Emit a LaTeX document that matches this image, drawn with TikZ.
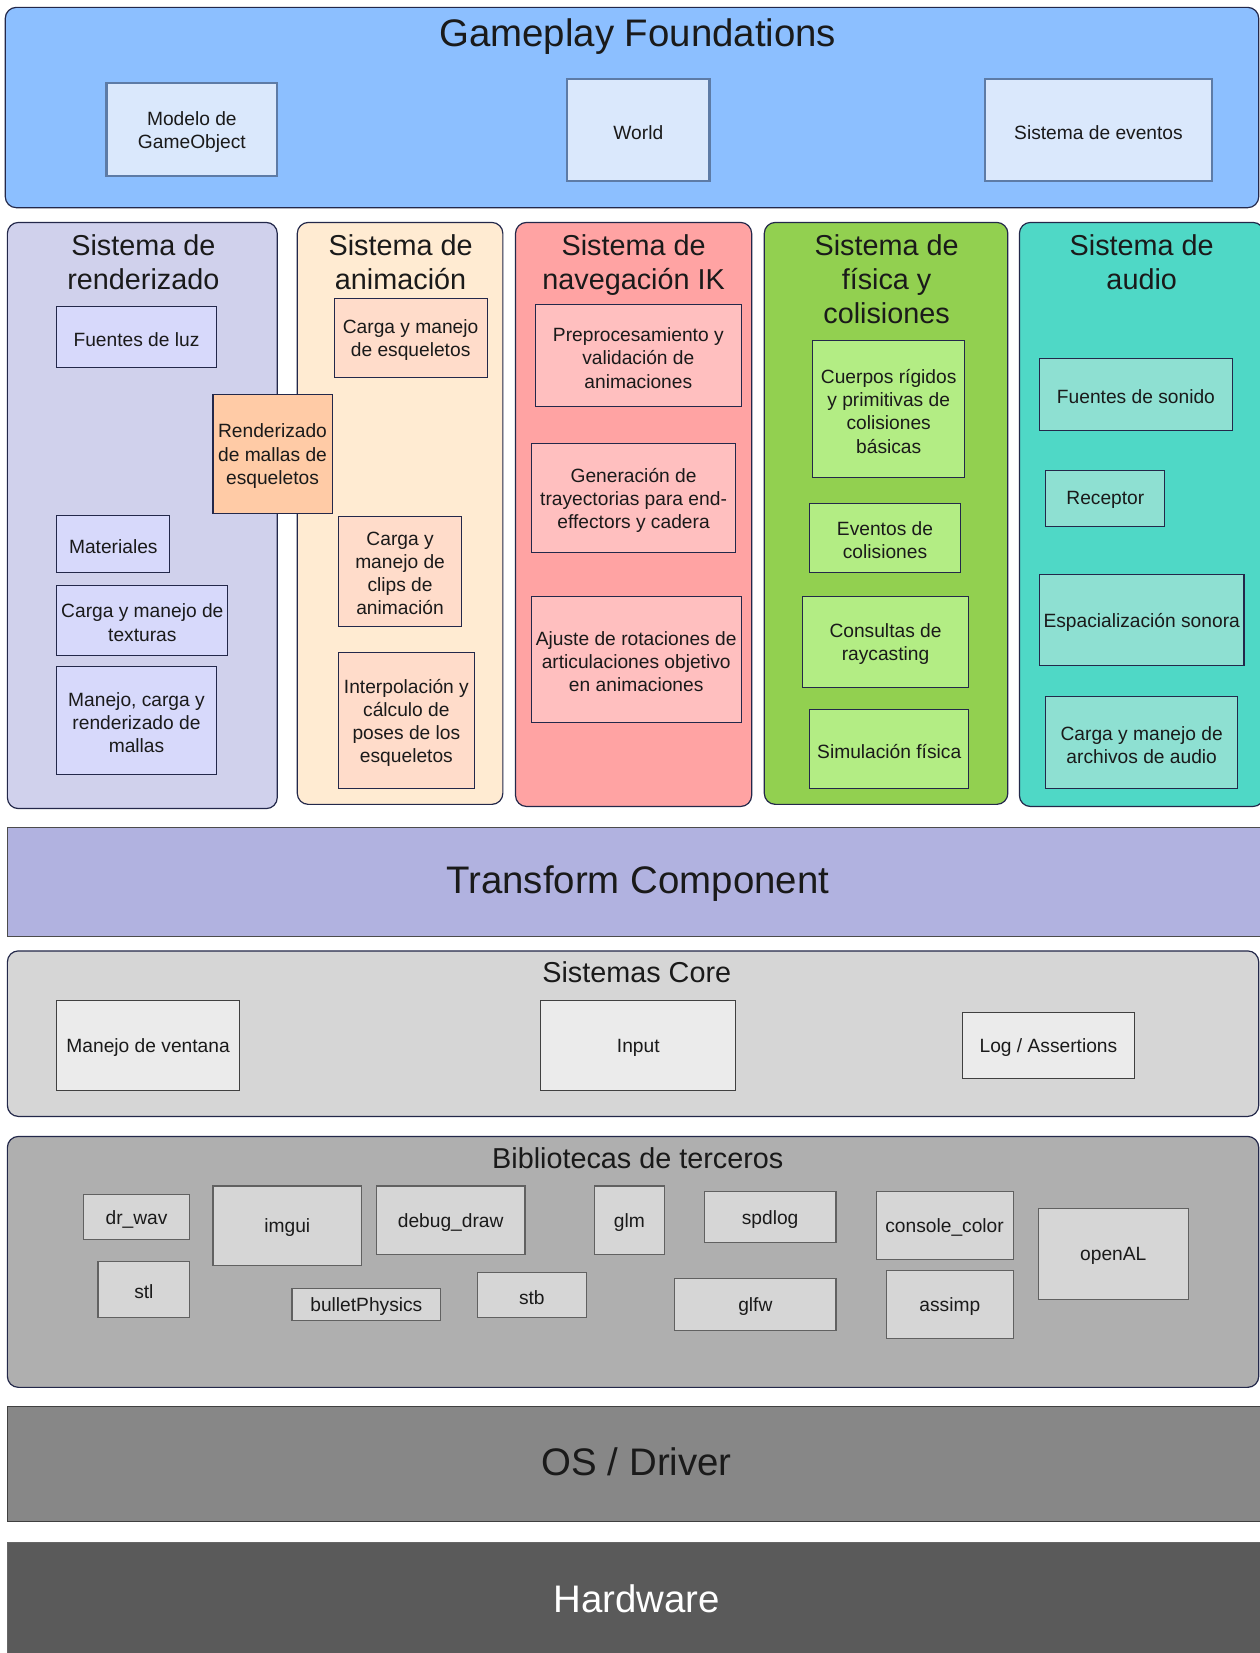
\documentclass[tikz,border=0pt]{standalone}
\usepackage{fontspec}
\setmainfont{Liberation Sans}
\usetikzlibrary{fit}

% palette
\definecolor{txt}{HTML}{1A1A1A}
\definecolor{navy}{HTML}{23284A}
\definecolor{gpfill}{HTML}{8CBFFF}
\definecolor{gpcellfill}{HTML}{DAE8FC}
\definecolor{gpline}{HTML}{5D7BA6}
\definecolor{renderfill}{HTML}{D0D1EC}
\definecolor{rendercell}{HTML}{D7D9FB}
\definecolor{skinfill}{HTML}{FFCBA6}
\definecolor{animfill}{HTML}{FFEBD2}
\definecolor{animcell}{HTML}{FFDCCA}
\definecolor{navfill}{HTML}{FFA3A3}
\definecolor{navcell}{HTML}{FFBFBF}
\definecolor{physfill}{HTML}{92D050}
\definecolor{physcell}{HTML}{B3ED84}
\definecolor{audiofill}{HTML}{4FD8C6}
\definecolor{audiocell}{HTML}{8EE0D2}
\definecolor{transfill}{HTML}{B1B2E0}
\definecolor{corefill}{HTML}{D6D6D6}
\definecolor{corecell}{HTML}{EBEBEB}
\definecolor{libfill}{HTML}{AFAFAF}
\definecolor{libcell}{HTML}{D6D6D6}
\definecolor{osfill}{HTML}{878787}
\definecolor{hwfill}{HTML}{5A5A5A}

\tikzset{
  body/.style={font=\fontsize{19.2}{23.2}\selectfont, text=txt, align=center, yshift=-2.2pt},
  hdr/.style={font=\fontsize{28.8}{34.2}\selectfont, text=txt, align=center, inner sep=0pt},
  big/.style={font=\fontsize{38.4}{44}\selectfont, text=txt, inner sep=0pt},
  panel/.style={draw=navy, line width=1.2pt, rounded corners=11pt, inner sep=0pt},
  layer/.style={draw=#1, line width=1.2pt, inner sep=0pt},
  cell/.style={draw=navy, line width=1.1pt, inner sep=0pt},
  gpcell/.style={cell, draw=gpline, line width=2.2pt, fill=gpcellfill},
  corebox/.style={cell, draw=black!75, fill=corecell},
  libbox/.style={cell, draw=black!62, fill=libcell},
}

% box spanning (x1,y1)-(x2,y2) with a centred label
\newcommand\cellbox[7][]{%
  \node[cell,#1,fit={(#3,#4)(#5,#6)}] (#2) {};
  \node[body] (#2-t) at (#2.center) {#7};}

\begin{document}
\begin{tikzpicture}[x=1.0544pt, y=-1.0544pt]
\useasboundingbox (0,0) rectangle (1195,1568);

% ---------- Gameplay Foundations ----------
\node[panel, fill=gpfill, fit={(5,7)(1194,197)}] (gameplay) {};
\node[big, anchor=base] (gameplay-t) at (605,44) {Gameplay Foundations};
\cellbox[gpcell]{gameobject}{101}{79}{263}{167}{Modelo de\\GameObject}
\cellbox[gpcell]{world}{538}{75}{673}{172}{World}
\cellbox[gpcell]{events}{934}{75}{1150}{172}{Sistema de eventos}

% ---------- subsystem columns ----------
\node[panel, fill=renderfill, fit={(7,211)(263,767)}] (render) {};
\node[panel, fill=animfill, fit={(282,211)(477,763)}] (anim) {};
\node[panel, fill=navfill, fit={(489,211)(713,765)}] (nav) {};
\node[panel, fill=physfill, fit={(725,211)(956,763)}] (phys) {};
\node[panel, fill=audiofill, fit={(967,211)(1199,765)}] (audio) {};

\node[hdr, anchor=north] (render-t) at (136,222) {Sistema de\\renderizado};
\node[hdr, anchor=north] (anim-t) at (380,222) {Sistema de\\animación};
\node[hdr, anchor=north] (nav-t) at (601,222) {Sistema de\\navegación IK};
\node[hdr, anchor=north] (phys-t) at (841,222) {Sistema de\\física y\\colisiones};
\node[hdr, anchor=north] (audio-t) at (1083,222) {Sistema de\\audio};

% rendering
\cellbox[fill=rendercell]{lights}{54}{291}{205}{349}{Fuentes de luz}
\cellbox[fill=rendercell]{materials}{54}{489}{161}{543}{Materiales}
\cellbox[fill=rendercell]{textures}{54}{555}{216}{622}{Carga y manejo de\\texturas}
\cellbox[fill=rendercell]{meshes}{54}{632}{205}{735}{Manejo, carga y\\renderizado de\\mallas}

% animation
\cellbox[fill=animcell]{skeletons}{317}{283}{462}{358}{Carga y manejo\\de esqueletos}
\cellbox[fill=animcell]{clips}{321}{490}{438}{594}{Carga y\\manejo de\\clips de\\animación}
\cellbox[fill=animcell]{poses}{321}{619}{450}{748}{Interpolación y\\cálculo de\\poses de los\\esqueletos}

% shared between rendering and animation
\cellbox[fill=skinfill]{skinned}{202}{374}{315}{487}{Renderizado\\de mallas de\\esqueletos}

% IK navigation
\cellbox[fill=navcell]{preproc}{508}{289}{703}{386}{Preprocesamiento y\\validación de\\animaciones}
\cellbox[fill=navcell]{traject}{504}{421}{698}{524}{Generación de\\trayectorias para end-\\effectors y cadera}
\cellbox[fill=navcell]{rotations}{504}{566}{703}{685}{Ajuste de rotaciones de\\articulaciones objetivo\\en animaciones}

% physics
\cellbox[fill=physcell]{rigid}{771}{323}{915}{453}{Cuerpos rígidos\\y primitivas de\\colisiones\\básicas}
\cellbox[fill=physcell]{colevents}{768}{478}{911}{543}{Eventos de\\colisiones}
\cellbox[fill=physcell]{raycast}{761}{566}{919}{652}{Consultas de\\raycasting}
\cellbox[fill=physcell]{simulation}{768}{673}{919}{748}{Simulación física}

% audio
\cellbox[fill=audiocell]{sources}{986}{340}{1169}{408}{Fuentes de sonido}
\cellbox[fill=audiocell]{listener}{992}{446}{1105}{499}{Receptor}
\cellbox[fill=audiocell]{spatial}{986}{545}{1180}{631}{Espacialización sonora}
\cellbox[fill=audiocell]{audiofiles}{992}{661}{1174}{748}{Carga y manejo de\\archivos de audio}

% ---------- Transform Component ----------
\node[layer=black!70, fill=transfill, fit={(7,785)(1200,888)}] (transform) {};
\node[big, anchor=base] (transform-t) at (605,848) {Transform Component};

% ---------- Core systems ----------
\node[panel, fill=corefill, fit={(7,902)(1194,1059)}] (core) {};
\node[hdr, anchor=base] (core-t) at (604,932) {Sistemas Core};
\cellbox[corebox]{window}{54}{949}{227}{1034}{Manejo de ventana}
\cellbox[corebox]{input}{513}{949}{698}{1034}{Input}
\cellbox[corebox]{logging}{913}{960}{1076}{1023}{Log / Assertions}

% ---------- Third-party libraries ----------
\node[panel, fill=libfill, fit={(7,1078)(1194,1316)}] (libs) {};
\node[hdr, anchor=base] (libs-t) at (605,1108) {Bibliotecas de terceros};
\cellbox[libbox]{drwav}{79}{1133}{180}{1176}{dr\_wav}
\cellbox[libbox]{imgui}{202}{1125}{343}{1200}{imgui}
\cellbox[libbox]{debugdraw}{357}{1125}{498}{1190}{debug\_draw}
\cellbox[libbox]{glm}{564}{1125}{630}{1190}{glm}
\cellbox[libbox]{spdlog}{668}{1130}{793}{1179}{spdlog}
\cellbox[libbox]{consolecolor}{831}{1130}{961}{1195}{console\_color}
\cellbox[libbox]{openal}{985}{1146}{1127}{1233}{openAL}
\cellbox[libbox]{stl}{93}{1197}{180}{1250}{stl}
\cellbox[libbox]{bullet}{277}{1222}{418}{1253}{bulletPhysics}
\cellbox[libbox]{stb}{453}{1207}{556}{1250}{stb}
\cellbox[libbox]{glfw}{640}{1213}{793}{1262}{glfw}
\cellbox[libbox]{assimp}{841}{1205}{961}{1270}{assimp}

% ---------- OS and hardware ----------
\node[layer=black!75, fill=osfill, fit={(7,1334)(1200,1443)}] (os) {};
\node[big, anchor=base] (os-t) at (604,1400) {OS / Driver};
\node[layer=black!60, fill=hwfill, fit={(7,1463)(1200,1575)}] (hardware) {};
\node[big, anchor=base, text=white] (hardware-t) at (604,1530) {Hardware};
\end{tikzpicture}
\end{document}
